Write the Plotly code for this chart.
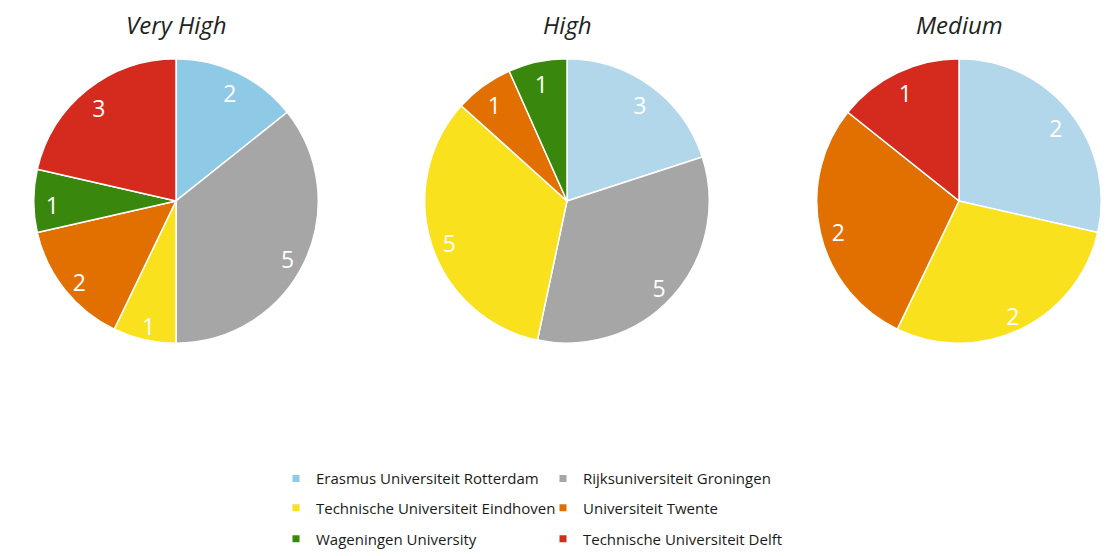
import plotly.graph_objects as go

# ---- data ----
universities = [
    "Erasmus Universiteit Rotterdam",
    "Rijksuniversiteit Groningen",
    "Technische Universiteit Eindhoven",
    "Universiteit Twente",
    "Wageningen University",
    "Technische Universiteit Delft",
]
legend_colors = ["#8ecae6", "#a6a6a6", "#f9e11e", "#e17000", "#39870c", "#d52b1e"]

groups = ["Very High", "High", "Medium"]
very_high = [2, 5, 1, 2, 1, 3]
high = [3, 5, 5, 1, 1, 0]
medium = [2, 0, 2, 2, 0, 1]
# the first slice is a lighter blue in the last two pies
slice_colors = [
    legend_colors,
    ["#b3d7ea"] + legend_colors[1:],
    ["#b3d7ea"] + legend_colors[1:],
]

# the page body has an 8px margin, so the figure starts 8px in
OFF = 8
W, H = 1110 - OFF, 556 - OFF
centers = [(176 - OFF, 206 - OFF), (567 - OFF, 206 - OFF), (959 - OFF, 206 - OFF)]
radius = 146
label_drop = 4  # value labels sit a little lower than the slice centres


def dom(cx, cy, r):
    return dict(x=[max(0, (cx - r) / W), min(1, (cx + r) / W)],
                y=[(H - cy - r) / H, (H - cy + r) / H])


fig = go.Figure()

for name, vals, cols, (cx, cy) in zip(groups, [very_high, high, medium], slice_colors, centers):
    labs = [u for u, v in zip(universities, vals) if v > 0]
    cs = [c for c, v in zip(cols, vals) if v > 0]
    vs = [v for v in vals if v > 0]
    # coloured slices
    fig.add_trace(go.Pie(
        labels=labs, values=vs, name=name,
        sort=False, direction="clockwise", rotation=0,
        marker=dict(colors=cs, line=dict(color="white", width=1.5)),
        textinfo="none", showlegend=False, hoverinfo="label+value",
        domain=dom(cx, cy, radius),
    ))
    # transparent ring on top, only to push the value labels outwards
    fig.add_trace(go.Pie(
        labels=labs, values=vs, name=name,
        sort=False, direction="clockwise", rotation=0, hole=0.74,
        marker=dict(colors=["rgba(0,0,0,0)"] * len(vs), line=dict(width=0)),
        textinfo="value", textposition="inside",
        insidetextorientation="horizontal",
        textfont=dict(color="white", size=23, family="Open Sans"),
        showlegend=False, hoverinfo="skip",
        domain=dom(cx, cy + label_drop, radius),
    ))
    fig.add_annotation(
        x=cx / W, y=(H - (25 - OFF)) / H, xref="paper", yref="paper",
        xanchor="center", yanchor="middle",
        text=name, showarrow=False,
        font=dict(size=24, color="#222222", family="Open Sans", style="italic"),
    )

# legend: three rows of two entries each
legend_rows = [(0, 1), (2, 3), (4, 5)]
row_y = [481, 511, 543]
for k, (a, b) in enumerate(legend_rows):
    lname = "legend" if k == 0 else f"legend{k + 1}"
    for i in (a, b):
        fig.add_trace(go.Scatter(
            x=[None], y=[None], mode="markers", name=universities[i],
            marker=dict(symbol="square", size=7, color=legend_colors[i]),
            legend=lname, hoverinfo="skip",
        ))
    fig.update_layout({lname: dict(
        orientation="h", x=(276 - OFF) / W, xanchor="left",
        y=(H - (row_y[k] - OFF + 10)) / H, yanchor="middle",
        entrywidth=222, entrywidthmode="pixels",
        font=dict(size=15, color="#1a1a1a", family="Open Sans"),
        bgcolor="rgba(0,0,0,0)",
    )})

fig.update_layout(
    width=W, height=H,
    margin=dict(l=0, r=0, t=0, b=0),
    paper_bgcolor="white", plot_bgcolor="white",
    xaxis=dict(visible=False), yaxis=dict(visible=False),
)

fig.write_html("out.html")
